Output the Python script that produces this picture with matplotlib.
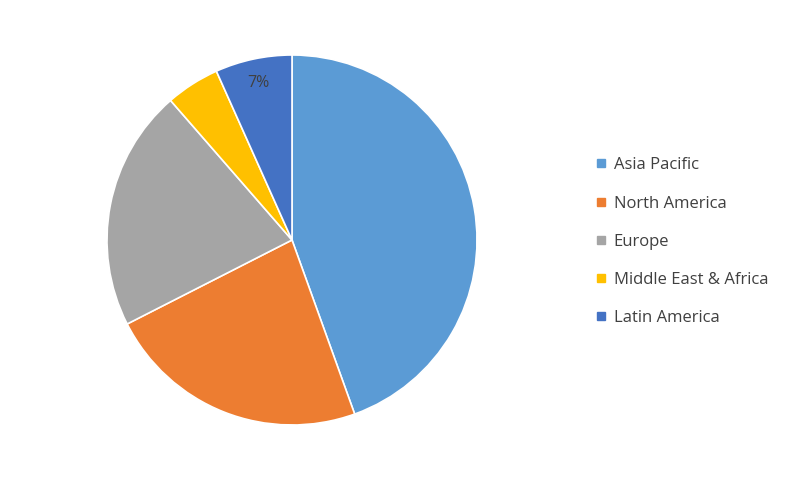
import matplotlib
matplotlib.use("Agg")
import matplotlib.pyplot as plt
from matplotlib.lines import Line2D

plt.rcParams["font.family"] = ["Open Sans", "DejaVu Sans"]

# --- data ---
regions = ["Asia Pacific", "North America", "Europe", "Middle East & Africa", "Latin America"]
shares = [44.5, 23.0, 21.1, 4.7, 6.7]
colors = ["#5B9BD5", "#ED7D31", "#A5A5A5", "#FFC000", "#4472C4"]
shown_labels = ["", "", "", "", "7%"]

TEXT = "#404040"

fig = plt.figure(figsize=(8, 4.8), dpi=100)
ax = fig.add_axes([107 / 800, 55 / 480, 370 / 800, 370 / 480])

wedges, _, autotexts = ax.pie(
    shares, colors=colors, startangle=90, counterclock=False,
    autopct="%1.0f%%", pctdistance=0.87,
    wedgeprops=dict(edgecolor="white", linewidth=1.2),
    textprops=dict(fontsize=11.5, color=TEXT),
)
for t, lab in zip(autotexts, shown_labels):
    t.set_text(lab)
ax.set_xlim(-1, 1)
ax.set_ylim(-1, 1)
ax.set_aspect("equal")

handles = [Line2D([0], [0], marker="s", linestyle="none", markersize=6,
                  markerfacecolor=c, markeredgecolor=c) for c in colors]
fig.legend(handles, regions, loc="upper left", bbox_to_anchor=(586 / 800, 1 - 149 / 480),
           frameon=False, fontsize=12, labelcolor=TEXT, handlelength=0.8,
           handletextpad=0.35, labelspacing=1.33, borderpad=0)

fig.savefig("out.png", dpi=100, facecolor="white")
